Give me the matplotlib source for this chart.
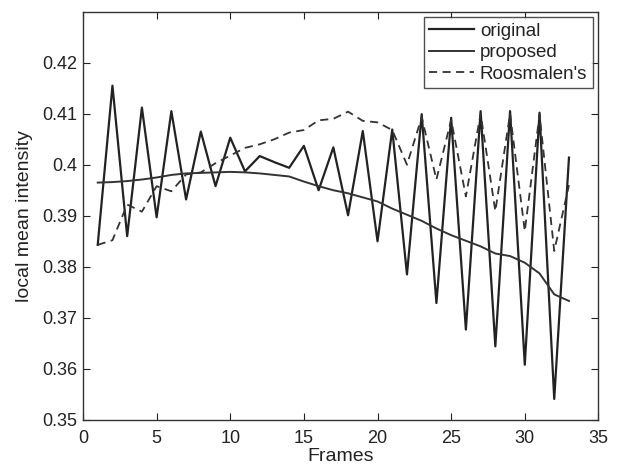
import matplotlib.pyplot as plt
import numpy as np

plt.rcParams['font.family'] = ['Liberation Sans', 'DejaVu Sans']

# Datos
frames = list(range(1, 34))

original = [0.3843, 0.4155, 0.3860, 0.4112, 0.3897, 0.4105, 0.3932, 0.4065,
            0.3958, 0.4053, 0.3987, 0.4017, 0.4005, 0.3994, 0.4037, 0.3950,
            0.4034, 0.3901, 0.4066, 0.3850, 0.4069, 0.3785, 0.4099, 0.3729,
            0.4092, 0.3677, 0.4105, 0.3644, 0.4105, 0.3608, 0.4102, 0.3541,
            0.4014]

proposed = [0.3965, 0.3966, 0.3968, 0.3971, 0.3975, 0.3980, 0.3983, 0.3984,
            0.3985, 0.3986, 0.3985, 0.3983, 0.3980, 0.3977, 0.3967, 0.3958,
            0.3950, 0.3944, 0.3936, 0.3928, 0.3914, 0.3902, 0.3890, 0.3875,
            0.3862, 0.3851, 0.3840, 0.3826, 0.3821, 0.3808, 0.3787, 0.3746,
            0.3733]

roosmalen = [0.3843, 0.3852, 0.3922, 0.3908, 0.3958, 0.3948, 0.3981, 0.3985,
             0.4003, 0.4018, 0.4033, 0.4040, 0.4050, 0.4063, 0.4068, 0.4087,
             0.4090, 0.4104, 0.4086, 0.4083, 0.4068, 0.4000, 0.4093, 0.3971,
             0.4088, 0.3938, 0.4100, 0.3909, 0.4100, 0.3870, 0.4098, 0.3831,
             0.3960]

xticks = [0, 5, 10, 15, 20, 25, 30, 35]
yticks = [0.35, 0.36, 0.37, 0.38, 0.39, 0.40, 0.41, 0.42]
ytick_labels = ['0.35', '0.36', '0.37', '0.38', '0.39', '0.4', '0.41', '0.42']

fig = plt.figure(figsize=(6.24, 4.66), dpi=100)
ax = fig.add_axes([0.133, 0.099, 0.826, 0.876])

ink = '#222222'
ax.plot(frames, original, color=ink, linewidth=1.6, label='original')
ax.plot(frames, proposed, color='#333333', linewidth=1.4, label='proposed')
ax.plot(frames, roosmalen, color='#333333', linewidth=1.3, linestyle=(0, (4.5, 3)),
        label="Roosmalen's")

ax.set_xlim(0, 35)
ax.set_ylim(0.35, 0.43)
ax.set_xticks(xticks)
ax.set_yticks(yticks)
ax.set_yticklabels(ytick_labels)

ax.tick_params(direction='in', top=True, right=True, length=5, width=0.8,
               labelsize=13, colors=ink)
ax.tick_params(axis='x', pad=7)
ax.tick_params(axis='y', pad=4)
for s in ax.spines.values():
    s.set_color('#333333')
    s.set_linewidth(1.0)

ax.set_xlabel('Frames', fontsize=14, color=ink, labelpad=1)
ax.set_ylabel('local mean intensity', fontsize=14, color=ink, labelpad=7)

leg = ax.legend(loc='upper right', fontsize=13.5, frameon=True, fancybox=False,
                borderpad=0.3, labelspacing=0.22, handlelength=2.4,
                handletextpad=0.3, borderaxespad=0.3)
leg.get_frame().set_edgecolor('#222222')
leg.get_frame().set_linewidth(1.0)
for t in leg.get_texts():
    t.set_color(ink)

fig.savefig('out.png', dpi=100, facecolor='white')
